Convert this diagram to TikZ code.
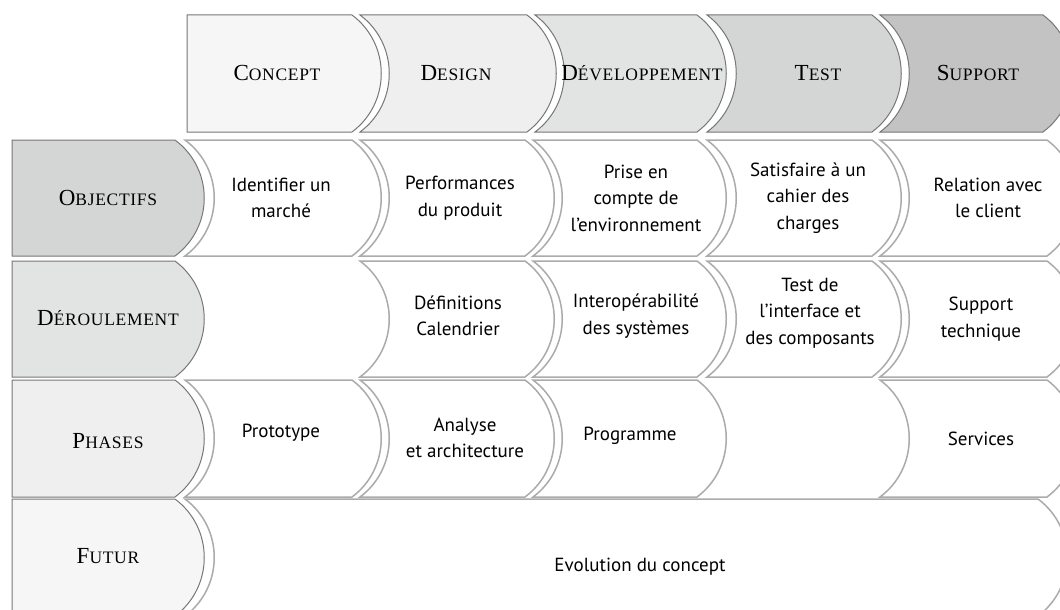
\documentclass[tikz,border=0pt]{standalone}
\usepackage{fontspec}
\setsansfont{PT Sans}
\newfontfamily\capfont{Liberation Serif}
\usetikzlibrary{positioning}

\definecolor{headline}{HTML}{777777}
\definecolor{itemline}{HTML}{ABABAB}
\definecolor{shadeA}{HTML}{F6F6F6}
\definecolor{shadeB}{HTML}{EFEFEF}
\definecolor{shadeC}{HTML}{E2E3E3}
\definecolor{shadeD}{HTML}{D4D5D5}
\definecolor{shadeE}{HTML}{C3C3C3}

% chevron cell: style, left, right, top, bottom, left bulge
\newcommand\chev[6]{%
  \draw[#1] (#2,#4) -- (#3,#4)
    .. controls ({#3+39},{#4+29}) and ({#3+39},{#5-29}) .. (#3,#5)
    -- (#2,#5)
    .. controls ({#2+#6},{#5-29}) and ({#2+#6},{#4+29}) .. cycle;}

% big first letter, smaller capitals after it
\newcommand\capt[2]{{\fontsize{23}{24}\selectfont #1}{\fontsize{17.5}{24}\selectfont #2}}

\begin{document}
\begin{tikzpicture}[
    x=1pt, y=-1pt,
    head/.style={draw=headline, line width=1pt},
    item/.style={draw=itemline, line width=1.5pt, fill=white},
    caption/.style={font=\capfont\addfontfeature{LetterSpace=4}},
    entry/.style={align=center,
                  font=\fontsize{19}{26.5}\selectfont\sffamily}]

    \useasboundingbox (0,0) rectangle (1060,610);
    \clip (0,0) rectangle (1060,610);

    % top row
    \chev{head,fill=shadeA}{187}{352}{15}{132}{0}
    \chev{head,fill=shadeB}{360}{527}{15}{132}{39}
    \chev{head,fill=shadeC}{535}{697}{15}{132}{39}
    \chev{head,fill=shadeD}{707}{872}{15}{132}{39}
    \chev{head,fill=shadeE}{880}{1043}{15}{132}{39}

    % left column
    \chev{head,fill=shadeD}{12}{175}{140}{256}{0}
    \chev{head,fill=shadeC}{12}{175}{261}{377}{0}
    \chev{head,fill=shadeB}{12}{175}{380}{497}{0}
    \chev{head,fill=shadeA}{12}{175}{499}{616}{0}

    % objectifs
    \chev{item}{185}{352}{140}{256}{39}
    \chev{item}{360}{525}{140}{256}{39}
    \chev{item}{533}{697}{140}{256}{39}
    \chev{item}{707}{872}{140}{256}{39}
    \chev{item}{880}{1047}{140}{256}{39}

    % deroulement
    \chev{item}{360}{525}{261}{377}{39}
    \chev{item}{533}{697}{261}{377}{39}
    \chev{item}{707}{872}{261}{377}{39}
    \chev{item}{880}{1047}{261}{377}{39}

    % phases
    \chev{item}{185}{352}{380}{497}{39}
    \chev{item}{360}{525}{380}{497}{39}
    \chev{item}{533}{697}{380}{497}{39}
    \chev{item}{880}{1047}{380}{497}{39}

    % futur
    \chev{item}{185}{1038}{499}{616}{39}

    \node[caption] (concept) at (277,73) {\capt{C}{ONCEPT}};
    \node[caption] (design) at (456,73) {\capt{D}{ESIGN}};
    \node[caption] (dev) at (642,73) {\capt{D}{ÉVELOPPEMENT}};
    \node[caption] (test) at (818,73) {\capt{T}{EST}};
    \node[caption] (support) at (978,73) {\capt{S}{UPPORT}};

    \node[caption] (objectifs) at (108,198) {\capt{O}{BJECTIFS}};
    \node[caption] (deroulement) at (108,318) {\capt{D}{ÉROULEMENT}};
    \node[caption] (phases) at (108,441) {\capt{P}{HASES}};
    \node[caption] (futur) at (108,556) {\capt{F}{UTUR}};

    \node[entry] (obj1) at (281,198) {Identifier un\\marché};
    \node[entry] (obj2) at (460,198) {Performances\\du produit};
    \node[entry] (obj3) at (636,198) {Prise en\\compte de\\l’environnement};
    \node[entry] (obj4) at (808,198) {Satisfaire à un\\cahier des\\charges};
    \node[entry] (obj5) at (988,198) {Relation avec\\le client};

    \node[entry] (der2) at (458,316) {Définitions\\Calendrier};
    \node[entry] (der3) at (636,316) {Interopérabilité\\des systèmes};
    \node[entry] (der4) at (810,313) {Test de\\l’interface et\\des composants};
    \node[entry] (der5) at (981,319) {Support\\technique};

    \node[entry] (pha1) at (281,433) {Prototype};
    \node[entry] (pha2) at (465,438) {Analyse\\et architecture};
    \node[entry] (pha3) at (630,436) {Programme};
    \node[entry] (pha5) at (981,439) {Services};

    \node[entry] (fut) at (640,567) {Evolution du concept};
\end{tikzpicture}
\end{document}
